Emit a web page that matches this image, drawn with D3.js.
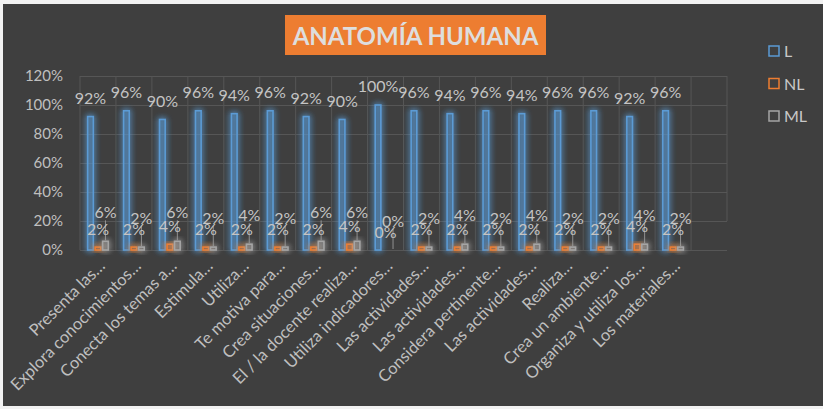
<!DOCTYPE html>
<html><head><meta charset="utf-8">
<script src="https://cdn.jsdelivr.net/npm/d3@7"></script>
<style>
html,body{margin:0;padding:0;background:#fff;}
svg{display:block;}
text{font-family:Lato,"Open Sans",sans-serif;}
</style></head>
<body>
<svg id="c" width="823" height="409"></svg>
<script>
const categories = ["Presenta las…","Explora conocimientos…","Conecta los temas a…","Estimula…","Utiliza…","Te motiva para…","Crea situaciones…","El / la docente realiza…","Utiliza indicadores…","Las actividades…","Las actividades…","Considera pertinente…","Las actividades…","Realiza…","Crea un ambiente…","Organiza y utiliza los…","Los materiales…",""];
const seriesNames = ["L","NL","ML"];
const valuesL  = [92,96,90,96,94,96,92,90,100,96,94,96,94,96,96,92,96];
const valuesNL = [2,2,4,2,2,2,2,4,0,2,2,2,2,2,2,4,2];
const valuesML = [6,2,6,2,4,2,6,6,0,2,4,2,4,2,2,4,2];
const yTicks = [0,20,40,60,80,100,120];
const title = "ANATOMÍA HUMANA";

const colors = {L:"#5b9bd5", NL:"#ed7d31", ML:"#a5a5a5"};
const svg = d3.select("#c");

// background
svg.append("rect").attr("x",0).attr("y",0).attr("width",823).attr("height",409).attr("fill","#f2f2f2");
svg.append("rect").attr("x",3).attr("y",4).attr("width",820).attr("height",402).attr("fill","#3f3f3f");

const defs = svg.append("defs");
Object.entries(colors).forEach(([k,c])=>{
  const f = defs.append("filter").attr("id","glow"+k).attr("x","-300%").attr("y","-50%").attr("width","700%").attr("height","200%");
  f.append("feGaussianBlur").attr("in","SourceGraphic").attr("stdDeviation",3.2).attr("result","b");
  const m = f.append("feMerge");
  m.append("feMergeNode").attr("in","b");
  m.append("feMergeNode").attr("in","b");
  m.append("feMergeNode").attr("in","SourceGraphic");
});

const pLeft = 80, pRight = 727, pTop = 76, pBottom = 250;
const x0 = d3.scaleBand().domain(d3.range(categories.length)).range([pLeft,pRight]).padding(0);
const w = x0.bandwidth();
const x1 = d3.scaleBand().domain(seriesNames).range([w/2-10.3, w/2+10.3]).paddingInner(0.25);
const y = d3.scaleLinear().domain([0,120]).range([pBottom,pTop]);

// horizontal gridlines
const grid = svg.append("g").attr("transform",`translate(${pLeft},0)`)
  .call(d3.axisLeft(y).tickValues(yTicks).tickSize(-(pRight-pLeft)).tickFormat(""));
grid.select(".domain").remove();
grid.selectAll("line").attr("stroke","#565656").attr("stroke-width",1);

// vertical gridlines
const bounds = d3.range(categories.length).map(i=>x0(i));
svg.append("g").selectAll("line").data(bounds).join("line")
  .attr("x1",d=>d).attr("x2",d=>d).attr("y1",y(120)).attr("y2",y(0))
  .attr("stroke","#565656");
svg.append("line").attr("x1",pRight).attr("x2",pRight).attr("y1",y(120)).attr("y2",y(20)).attr("stroke","#565656");

// y axis labels
const ya = svg.append("g").attr("transform",`translate(${pLeft},0)`)
  .call(d3.axisLeft(y).tickValues(yTicks).tickSize(0).tickPadding(17).tickFormat(d=>d+"%"));
ya.select(".domain").remove();
ya.selectAll("text").attr("fill","#bfbfbf").style("font-size","15px").style("font-family","Lato");

// x axis labels
const xa = svg.append("g").attr("transform",`translate(0,${pBottom})`)
  .call(d3.axisBottom(x0).tickSize(0).tickFormat(i=>categories[i]));
xa.select(".domain").remove();
xa.selectAll("text").attr("fill","#bfbfbf").style("font-size","16.5px").style("font-family","Lato")
  .attr("text-anchor","end").attr("dy",0).attr("y",0)
  .attr("transform","translate(8,17) rotate(-45)");

// bars
const data = {L:valuesL, NL:valuesNL, ML:valuesML};
seriesNames.forEach(s=>{
  const g = svg.append("g").attr("filter",`url(#glow${s})`);
  g.selectAll("rect").data(data[s]).join("rect")
    .attr("x",(d,i)=>x0(i)+x1(s))
    .attr("y",d=>y(d))
    .attr("width",x1.bandwidth())
    .attr("height",d=>y(0)-y(d))
    .attr("fill",colors[s]).attr("fill-opacity",0.12)
    .attr("stroke",colors[s]).attr("stroke-width",1.6);
});

// labels
const lblOff = {L:13, NL:12, ML:23};
// leader lines for ML
svg.append("g").selectAll("line").data(valuesML).join("line")
  .attr("x1",(d,i)=>x0(i)+x1("ML")+x1.bandwidth()/2)
  .attr("x2",(d,i)=>x0(i)+x1("ML")+x1.bandwidth()/2)
  .attr("y1",d=>y(d)-lblOff.ML+2)
  .attr("y2",d=>y(d)-1)
  .attr("stroke","#a5a5a5").attr("stroke-width",0.8);
seriesNames.forEach(s=>{
  svg.append("g").selectAll("text").data(data[s]).join("text")
    .attr("x",(d,i)=>x0(i)+x1(s)+x1.bandwidth()/2)
    .attr("y",d=>y(d)-lblOff[s])
    .attr("text-anchor","middle")
    .attr("fill","#c4c4c4")
    .style("font-size","16px")
    .text(d=>d+"%");
});

// title
const tg = svg.append("g");
tg.append("rect").attr("x",285).attr("y",15).attr("width",261).attr("height",40).attr("fill","#ed7d31");
tg.append("text").attr("x",415.5).attr("y",45).attr("text-anchor","middle")
  .attr("fill","#dedede").style("font-size","24px").style("font-weight","bold").text(title);

// legend
const lg = svg.append("g");
seriesNames.forEach((s,i)=>{
  const cy = 51 + i*32.5;
  lg.append("rect").attr("x",769).attr("y",cy-5).attr("width",10).attr("height",10)
    .attr("fill","none").attr("stroke",colors[s]).attr("stroke-width",1.5);
  lg.append("text").attr("x",784).attr("y",cy+6).attr("fill","#c8c8c8")
    .style("font-size","16px").text(s);
});
</script>
</body></html>
